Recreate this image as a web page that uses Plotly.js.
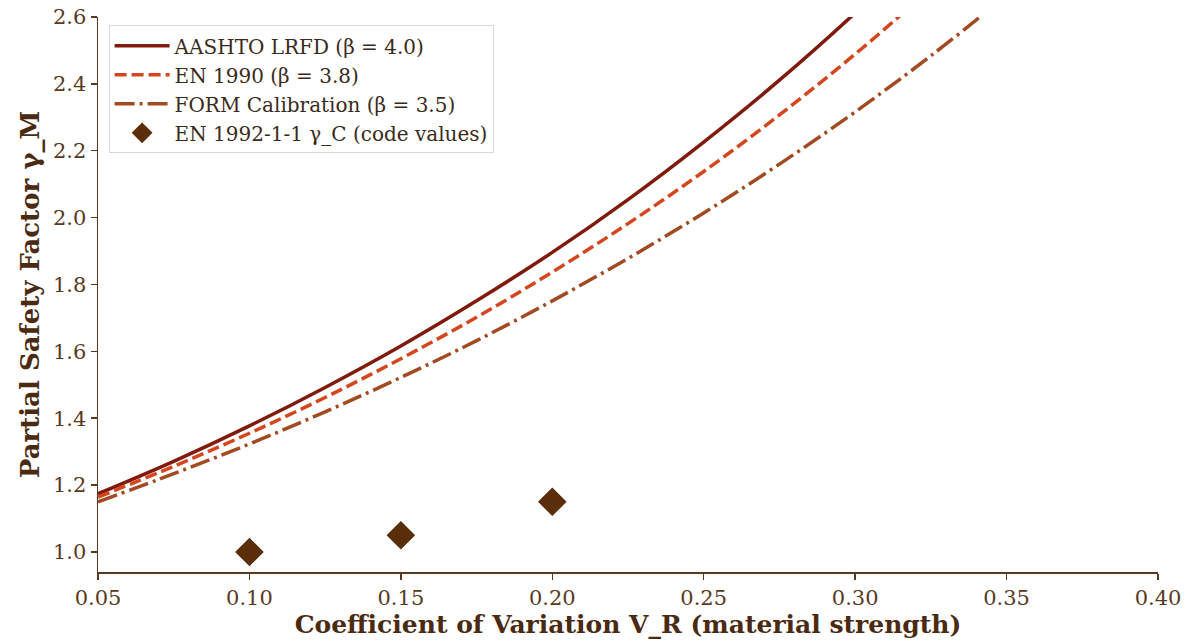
<!DOCTYPE html>
<html><head><meta charset="utf-8">
<script src="https://cdn.plot.ly/plotly-3.0.1.min.js"></script>
<style>body{margin:0;background:#fff}#c{width:1193px;height:642px}</style>
</head><body><div id="c"></div>
<script>
const vR = [0.05,0.075,0.10,0.125,0.15,0.175,0.20,0.225,0.25,0.275,0.30,0.325,0.35];
const aashto = [1.174,1.271,1.377,1.492,1.616,1.751,1.896,2.054,2.226,2.411,2.612,2.829,3.06];
const en1990 = [1.164,1.256,1.355,1.462,1.578,1.702,1.837,1.982,2.138,2.307,2.489,2.686,2.90];
const form = [1.150,1.234,1.323,1.419,1.522,1.632,1.751,1.878,2.014,2.160,2.316,2.484,2.664];
const codeV = [0.10,0.15,0.20];
const codeGamma = [1.00,1.05,1.15];
const names = ["AASHTO LRFD (β = 4.0)","EN 1990 (β = 3.8)","FORM Calibration (β = 3.5)","EN 1992-1-1 γ_C (code values)"];
const xTicks = [0.05,0.10,0.15,0.20,0.25,0.30,0.35,0.40];
const xTickText = ["0.05","0.10","0.15","0.20","0.25","0.30","0.35","0.40"];
const yTicks = [1.0,1.2,1.4,1.6,1.8,2.0,2.2,2.4,2.6];
const yTickText = ["1.0","1.2","1.4","1.6","1.8","2.0","2.2","2.4","2.6"];

const axisCol = "#5a3a1e";
const txtCol = "#5a3a1e";
const serif = "DejaVu Serif, serif";

const traces = [
 {x:vR,y:aashto,mode:"lines",name:names[0],line:{color:"#7f1a0c",width:3.5,shape:"spline"}},
 {x:vR,y:en1990,mode:"lines",name:names[1],line:{color:"#d4471e",width:3.5,dash:"12px,5px",shape:"spline"}},
 {x:vR,y:form,mode:"lines",name:names[2],line:{color:"#a24a22",width:3.5,dash:"20px,5px,3px,5px",shape:"spline"}},
 {x:codeV,y:codeGamma,mode:"markers",name:names[3],marker:{symbol:"diamond",size:22,color:"#5b2e0a"}}
];
const layout = {
 width:1193,height:642,
 margin:{l:98,r:35,t:17,b:70},
 paper_bgcolor:"#fff",plot_bgcolor:"#fff",
 font:{family:serif,color:txtCol,size:18},
 showlegend:true,
 legend:{x:0.01,y:0.985,xanchor:"left",yanchor:"top",bgcolor:"rgba(255,255,255,0.9)",bordercolor:"#d8d8d8",borderwidth:1,itemwidth:55,font:{family:serif,size:20,color:"#3a2a1a"},tracegroupgap:2},
 xaxis:{range:[0.05,0.40],tickvals:xTicks,ticktext:xTickText,
  showgrid:false,zeroline:false,showline:true,linecolor:axisCol,linewidth:1.5,ticks:"outside",ticklen:6,tickcolor:axisCol,tickwidth:1.5,
  tickfont:{family:serif,size:21,color:txtCol},
  title:{text:"Coefficient of Variation V_R (material strength)",font:{family:serif,size:25,color:"#4a2a10",weight:"bold"},standoff:4}},
 yaxis:{range:[0.94,2.6],tickvals:yTicks,ticktext:yTickText,
  showgrid:false,zeroline:false,showline:true,linecolor:axisCol,linewidth:1.5,ticks:"outside",ticklen:6,tickcolor:axisCol,tickwidth:1.5,
  tickfont:{family:serif,size:21,color:txtCol},
  title:{text:"Partial Safety Factor γ_M",font:{family:serif,size:26,color:"#4a2a10",weight:"bold"},standoff:6}}
};
Plotly.newPlot("c",traces,layout,{displayModeBar:false,staticPlot:true});
</script></body></html>
